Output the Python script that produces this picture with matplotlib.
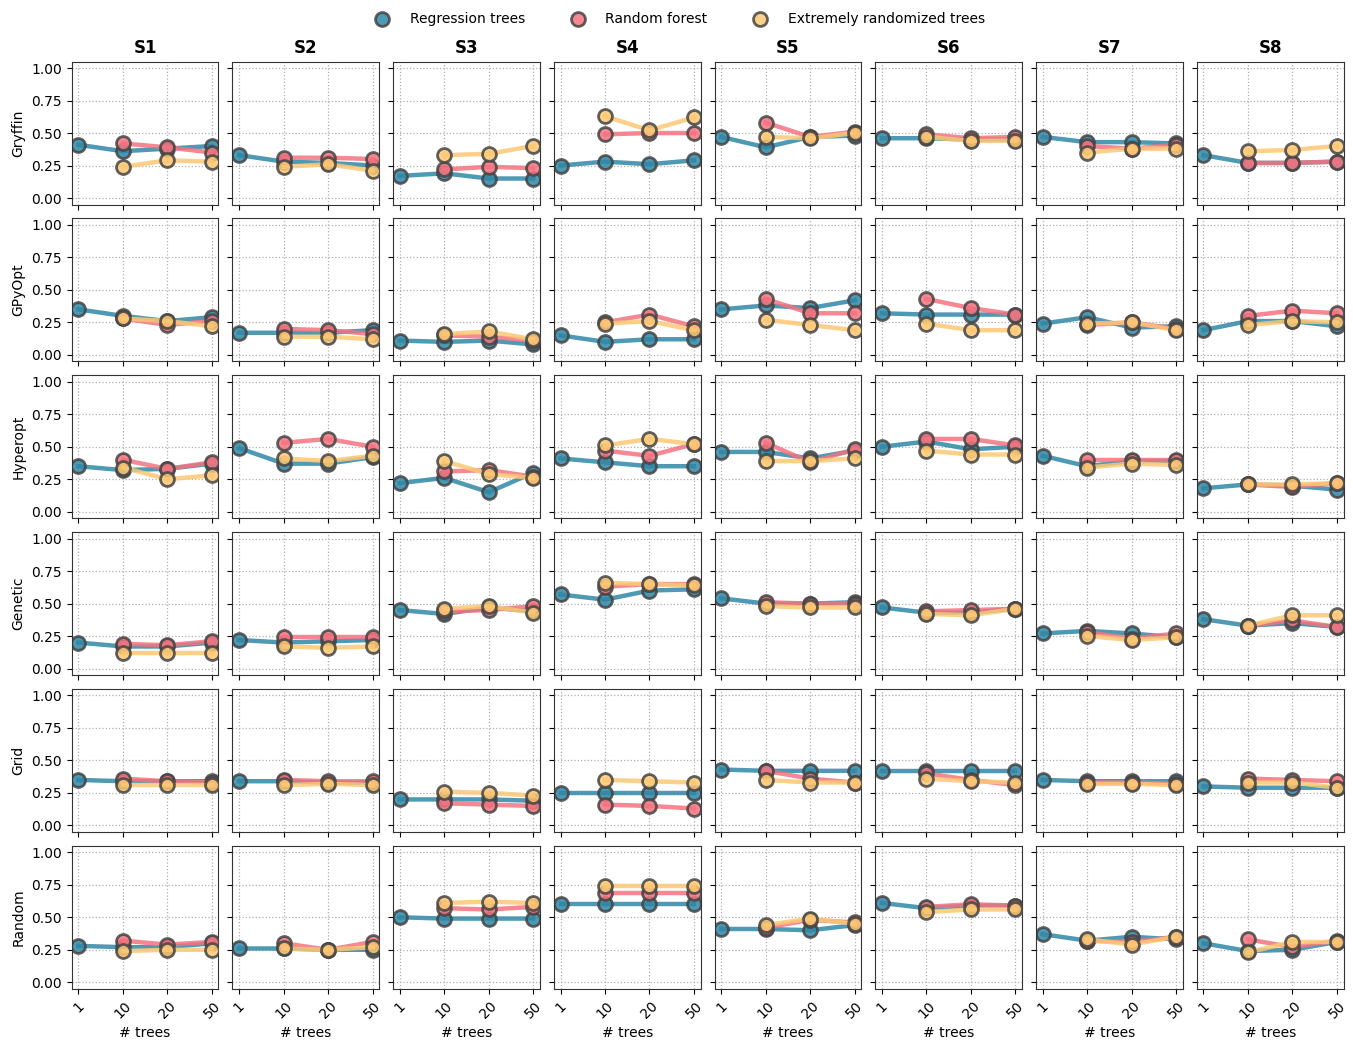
import matplotlib
matplotlib.use('Agg')
import matplotlib.pyplot as plt
from matplotlib.lines import Line2D

n_trees = ['1', '10', '20', '50']
scenarios = ['S1', 'S2', 'S3', 'S4', 'S5', 'S6', 'S7', 'S8']
optimizers = ['Gryffin', 'GPyOpt', 'Hyperopt', 'Genetic', 'Grid', 'Random']
models = ['Regression trees', 'Random forest', 'Extremely randomized trees']

# regression trees: values at 1, 10, 20, 50 trees; forests: at 10, 20, 50
gryffin_rt = [[0.41, 0.36, 0.38, 0.40], [0.33, 0.28, 0.27, 0.25], [0.17, 0.19, 0.15, 0.15], [0.25, 0.28, 0.26, 0.29],
              [0.47, 0.39, 0.47, 0.48], [0.46, 0.46, 0.45, 0.45], [0.47, 0.43, 0.43, 0.42], [0.33, 0.27, 0.27, 0.28]]
gryffin_rf = [[0.42, 0.39, 0.35], [0.31, 0.31, 0.30], [0.22, 0.24, 0.23], [0.49, 0.50, 0.50],
              [0.58, 0.47, 0.51], [0.49, 0.46, 0.47], [0.40, 0.38, 0.41], [0.27, 0.27, 0.28]]
gryffin_et = [[0.24, 0.29, 0.28], [0.24, 0.26, 0.21], [0.33, 0.34, 0.40], [0.63, 0.52, 0.62],
              [0.47, 0.46, 0.50], [0.47, 0.44, 0.44], [0.35, 0.38, 0.38], [0.36, 0.37, 0.40]]

gpyopt_rt = [[0.35, 0.30, 0.26, 0.29], [0.17, 0.17, 0.17, 0.19], [0.11, 0.10, 0.11, 0.08], [0.15, 0.10, 0.12, 0.12],
             [0.35, 0.38, 0.36, 0.42], [0.32, 0.31, 0.31, 0.31], [0.24, 0.29, 0.21, 0.22], [0.19, 0.26, 0.26, 0.22]]
gpyopt_rf = [[0.28, 0.23, 0.26], [0.20, 0.19, 0.16], [0.15, 0.14, 0.11], [0.25, 0.31, 0.22],
             [0.43, 0.32, 0.32], [0.43, 0.36, 0.31], [0.23, 0.25, 0.20], [0.30, 0.34, 0.32]]
gpyopt_et = [[0.28, 0.26, 0.22], [0.14, 0.14, 0.12], [0.16, 0.18, 0.12], [0.24, 0.26, 0.19],
             [0.27, 0.23, 0.19], [0.24, 0.19, 0.19], [0.24, 0.25, 0.19], [0.23, 0.26, 0.25]]

hyperopt_rt = [[0.35, 0.32, 0.33, 0.37], [0.49, 0.37, 0.37, 0.42], [0.22, 0.26, 0.15, 0.30], [0.41, 0.38, 0.35, 0.35],
               [0.46, 0.46, 0.41, 0.47], [0.50, 0.54, 0.48, 0.50], [0.43, 0.35, 0.39, 0.39], [0.18, 0.21, 0.20, 0.17]]
hyperopt_rf = [[0.40, 0.33, 0.38], [0.53, 0.56, 0.50], [0.31, 0.32, 0.27], [0.47, 0.43, 0.52],
               [0.53, 0.38, 0.48], [0.56, 0.56, 0.51], [0.40, 0.40, 0.40], [0.21, 0.19, 0.22]]
hyperopt_et = [[0.34, 0.25, 0.28], [0.41, 0.39, 0.43], [0.39, 0.29, 0.26], [0.51, 0.56, 0.52],
               [0.39, 0.39, 0.41], [0.47, 0.44, 0.44], [0.34, 0.37, 0.36], [0.21, 0.21, 0.22]]

genetic_rt = [[0.20, 0.17, 0.17, 0.20], [0.22, 0.20, 0.21, 0.22], [0.45, 0.42, 0.47, 0.44], [0.57, 0.53, 0.60, 0.61],
              [0.54, 0.50, 0.50, 0.51], [0.47, 0.43, 0.43, 0.46], [0.27, 0.29, 0.27, 0.24], [0.38, 0.33, 0.35, 0.32]]
genetic_rf = [[0.19, 0.18, 0.21], [0.24, 0.24, 0.24], [0.44, 0.45, 0.48], [0.63, 0.65, 0.65],
              [0.51, 0.50, 0.50], [0.44, 0.45, 0.46], [0.28, 0.23, 0.27], [0.33, 0.37, 0.32]]
genetic_et = [[0.12, 0.12, 0.12], [0.17, 0.16, 0.17], [0.46, 0.48, 0.43], [0.66, 0.65, 0.64],
              [0.48, 0.47, 0.47], [0.42, 0.41, 0.46], [0.25, 0.22, 0.24], [0.33, 0.41, 0.41]]

grid_rt = [[0.35, 0.34, 0.34, 0.34], [0.34, 0.34, 0.33, 0.33], [0.20, 0.20, 0.20, 0.19], [0.25, 0.25, 0.25, 0.25],
           [0.43, 0.42, 0.42, 0.42], [0.42, 0.42, 0.42, 0.42], [0.35, 0.34, 0.34, 0.34], [0.30, 0.29, 0.29, 0.29]]
grid_rf = [[0.36, 0.34, 0.33], [0.35, 0.34, 0.34], [0.17, 0.16, 0.15], [0.16, 0.15, 0.13],
           [0.42, 0.36, 0.33], [0.40, 0.35, 0.31], [0.33, 0.33, 0.32], [0.36, 0.35, 0.34]]
grid_et = [[0.31, 0.31, 0.31], [0.31, 0.32, 0.31], [0.26, 0.25, 0.23], [0.35, 0.34, 0.33],
           [0.35, 0.33, 0.33], [0.36, 0.34, 0.33], [0.32, 0.32, 0.31], [0.33, 0.33, 0.29]]

random_rt = [[0.28, 0.27, 0.27, 0.30], [0.26, 0.26, 0.25, 0.25], [0.50, 0.49, 0.49, 0.49], [0.60, 0.60, 0.60, 0.60],
             [0.41, 0.41, 0.40, 0.44], [0.61, 0.57, 0.59, 0.59], [0.37, 0.32, 0.35, 0.33], [0.30, 0.24, 0.25, 0.31]]
random_rf = [[0.32, 0.29, 0.31], [0.30, 0.25, 0.31], [0.57, 0.56, 0.58], [0.69, 0.69, 0.69],
             [0.42, 0.48, 0.46], [0.58, 0.60, 0.59], [0.32, 0.31, 0.35], [0.33, 0.27, 0.32]]
random_et = [[0.24, 0.25, 0.25], [0.26, 0.25, 0.27], [0.61, 0.62, 0.61], [0.74, 0.74, 0.74],
             [0.44, 0.49, 0.45], [0.54, 0.56, 0.56], [0.33, 0.29, 0.35], [0.23, 0.31, 0.31]]

results = [
    (gryffin_rt, gryffin_rf, gryffin_et),
    (gpyopt_rt, gpyopt_rf, gpyopt_et),
    (hyperopt_rt, hyperopt_rf, hyperopt_et),
    (genetic_rt, genetic_rf, genetic_et),
    (grid_rt, grid_rf, grid_et),
    (random_rt, random_rf, random_et),
]

colors = ['#2f87a6', '#f4737f', '#fcc874']
edge = '#444444'

fig, axes = plt.subplots(6, 8, figsize=(13.53, 10.43), dpi=100, sharex=True, sharey=True)
fig.subplots_adjust(left=0.053, right=0.993, top=0.941, bottom=0.052, wspace=0.095, hspace=0.097)

for i, opt in enumerate(optimizers):
    for j, sc in enumerate(scenarios):
        ax = axes[i, j]
        ax.grid(True, ls=':', color='#b0b0b0', lw=0.9)
        ax.set_axisbelow(True)
        for k, (series, color) in enumerate(zip(results[i], colors)):
            vals = series[j]
            xs = list(range(4 - len(vals), 4))
            ax.plot(xs, vals, color=color, lw=3.2, alpha=0.85, zorder=2 + k,
                    marker='o', markersize=10, markerfacecolor=color,
                    markeredgecolor=edge, markeredgewidth=2.0)
        ax.set_ylim(-0.05, 1.05)
        ax.set_yticks([0, 0.25, 0.5, 0.75, 1.0])
        ax.set_xticks(range(4))
        ax.set_xticklabels(n_trees, rotation=45)
        for s in ax.spines.values():
            s.set_color('#333333')
        if i == 0:
            ax.set_title(sc, fontweight='bold', fontsize=12)
        if j == 0:
            ax.set_ylabel(opt, fontsize=10)
        if i == 5:
            ax.set_xlabel('# trees', fontsize=10)

handles = [Line2D([], [], ls='', marker='o', markersize=10, markerfacecolor=c,
                  markeredgecolor=edge, markeredgewidth=2.0, alpha=0.85) for c in colors]
fig.legend(handles, models, loc='upper center', ncol=3, frameon=False,
           bbox_to_anchor=(0.5, 1.0), fontsize=10, columnspacing=2.8, handletextpad=1.0)

fig.savefig('out.png')
